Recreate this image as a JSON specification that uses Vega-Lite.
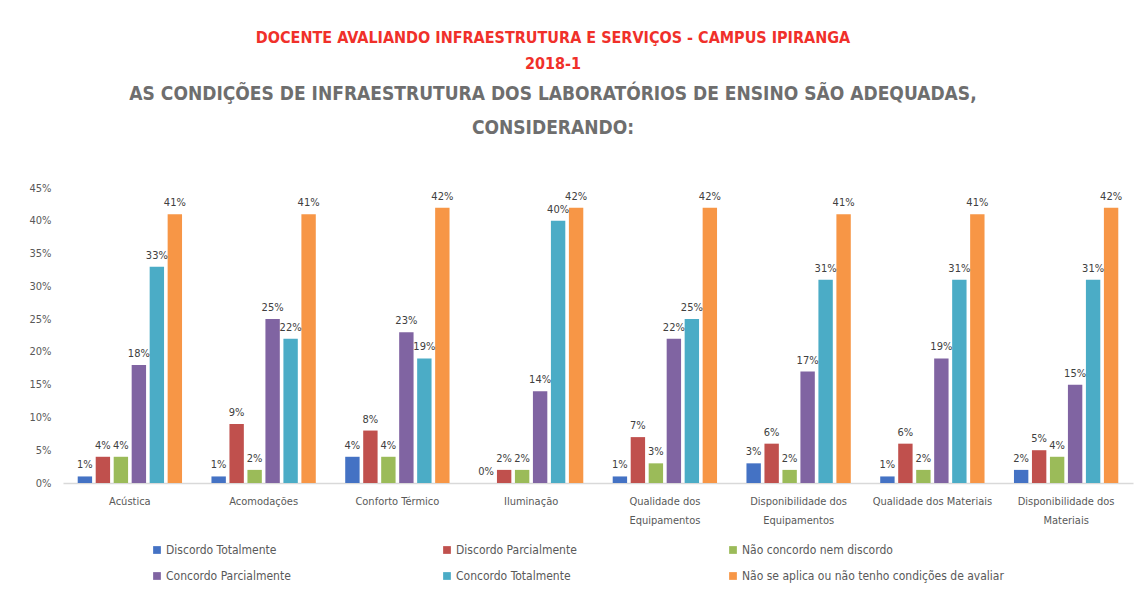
{
  "$schema": "https://vega.github.io/schema/vega-lite/v6.json",
  "width": 1070,
  "height": 295,
  "autosize": "none",
  "padding": {"left": 63, "top": 188, "right": 5, "bottom": 132},
  "background": "white",
  "config": {"view": {"stroke": null}, "font": "'DejaVu Sans Condensed', 'Liberation Sans', sans-serif"},
  "title": {
    "text": ["DOCENTE AVALIANDO INFRAESTRUTURA E SERVIÇOS - CAMPUS IPIRANGA", "2018-1"],
    "subtitle": ["AS CONDIÇÕES DE INFRAESTRUTURA DOS LABORATÓRIOS DE ENSINO SÃO ADEQUADAS,", "CONSIDERANDO:"],
    "color": "#F0302A",
    "fontSize": 16,
    "fontWeight": "bold",
    "lineHeight": 26,
    "subtitleColor": "#6E6E6E",
    "subtitleFontSize": 19,
    "subtitleFontWeight": "bold",
    "subtitleLineHeight": 34,
    "subtitlePadding": 13,
    "anchor": "middle",
    "dx": -45,
    "offset": 44,
    "font": "'DejaVu Sans Condensed', 'Liberation Sans', sans-serif",
    "subtitleFont": "'DejaVu Sans Condensed', 'Liberation Sans', sans-serif"
  },
  "data": {
    "values": [
      {"item": "Acústica", "resp": "Discordo Totalmente", "v": 0.01},
      {"item": "Acústica", "resp": "Discordo Parcialmente", "v": 0.04},
      {"item": "Acústica", "resp": "Não concordo nem discordo", "v": 0.04},
      {"item": "Acústica", "resp": "Concordo Parcialmente", "v": 0.18},
      {"item": "Acústica", "resp": "Concordo Totalmente", "v": 0.33},
      {"item": "Acústica", "resp": "Não se aplica ou não tenho condições de avaliar", "v": 0.41},
      {"item": "Acomodações", "resp": "Discordo Totalmente", "v": 0.01},
      {"item": "Acomodações", "resp": "Discordo Parcialmente", "v": 0.09},
      {"item": "Acomodações", "resp": "Não concordo nem discordo", "v": 0.02},
      {"item": "Acomodações", "resp": "Concordo Parcialmente", "v": 0.25},
      {"item": "Acomodações", "resp": "Concordo Totalmente", "v": 0.22},
      {"item": "Acomodações", "resp": "Não se aplica ou não tenho condições de avaliar", "v": 0.41},
      {"item": "Conforto Térmico", "resp": "Discordo Totalmente", "v": 0.04},
      {"item": "Conforto Térmico", "resp": "Discordo Parcialmente", "v": 0.08},
      {"item": "Conforto Térmico", "resp": "Não concordo nem discordo", "v": 0.04},
      {"item": "Conforto Térmico", "resp": "Concordo Parcialmente", "v": 0.23},
      {"item": "Conforto Térmico", "resp": "Concordo Totalmente", "v": 0.19},
      {"item": "Conforto Térmico", "resp": "Não se aplica ou não tenho condições de avaliar", "v": 0.42},
      {"item": "Iluminação", "resp": "Discordo Totalmente", "v": 0.0},
      {"item": "Iluminação", "resp": "Discordo Parcialmente", "v": 0.02},
      {"item": "Iluminação", "resp": "Não concordo nem discordo", "v": 0.02},
      {"item": "Iluminação", "resp": "Concordo Parcialmente", "v": 0.14},
      {"item": "Iluminação", "resp": "Concordo Totalmente", "v": 0.40},
      {"item": "Iluminação", "resp": "Não se aplica ou não tenho condições de avaliar", "v": 0.42},
      {"item": "Qualidade dos Equipamentos", "resp": "Discordo Totalmente", "v": 0.01},
      {"item": "Qualidade dos Equipamentos", "resp": "Discordo Parcialmente", "v": 0.07},
      {"item": "Qualidade dos Equipamentos", "resp": "Não concordo nem discordo", "v": 0.03},
      {"item": "Qualidade dos Equipamentos", "resp": "Concordo Parcialmente", "v": 0.22},
      {"item": "Qualidade dos Equipamentos", "resp": "Concordo Totalmente", "v": 0.25},
      {"item": "Qualidade dos Equipamentos", "resp": "Não se aplica ou não tenho condições de avaliar", "v": 0.42},
      {"item": "Disponibilidade dos Equipamentos", "resp": "Discordo Totalmente", "v": 0.03},
      {"item": "Disponibilidade dos Equipamentos", "resp": "Discordo Parcialmente", "v": 0.06},
      {"item": "Disponibilidade dos Equipamentos", "resp": "Não concordo nem discordo", "v": 0.02},
      {"item": "Disponibilidade dos Equipamentos", "resp": "Concordo Parcialmente", "v": 0.17},
      {"item": "Disponibilidade dos Equipamentos", "resp": "Concordo Totalmente", "v": 0.31},
      {"item": "Disponibilidade dos Equipamentos", "resp": "Não se aplica ou não tenho condições de avaliar", "v": 0.41},
      {"item": "Qualidade dos Materiais", "resp": "Discordo Totalmente", "v": 0.01},
      {"item": "Qualidade dos Materiais", "resp": "Discordo Parcialmente", "v": 0.06},
      {"item": "Qualidade dos Materiais", "resp": "Não concordo nem discordo", "v": 0.02},
      {"item": "Qualidade dos Materiais", "resp": "Concordo Parcialmente", "v": 0.19},
      {"item": "Qualidade dos Materiais", "resp": "Concordo Totalmente", "v": 0.31},
      {"item": "Qualidade dos Materiais", "resp": "Não se aplica ou não tenho condições de avaliar", "v": 0.41},
      {"item": "Disponibilidade dos Materiais", "resp": "Discordo Totalmente", "v": 0.02},
      {"item": "Disponibilidade dos Materiais", "resp": "Discordo Parcialmente", "v": 0.05},
      {"item": "Disponibilidade dos Materiais", "resp": "Não concordo nem discordo", "v": 0.04},
      {"item": "Disponibilidade dos Materiais", "resp": "Concordo Parcialmente", "v": 0.15},
      {"item": "Disponibilidade dos Materiais", "resp": "Concordo Totalmente", "v": 0.31},
      {"item": "Disponibilidade dos Materiais", "resp": "Não se aplica ou não tenho condições de avaliar", "v": 0.42}
    ]
  },
  "encoding": {
    "x": {
      "field": "item", "type": "nominal", "sort": null, "title": null,
      "scale": {"paddingInner": 0.22, "paddingOuter": 0.11},
      "axis": {
        "labelAngle": 0, "ticks": false, "domainColor": "#D9D9D9", "domainWidth": 1.5,
        "labelColor": "#595959", "labelFontSize": 11, "labelPadding": 12, "labelLineHeight": 19,
        "labelExpr": "datum.label == 'Qualidade dos Equipamentos' ? ['Qualidade dos','Equipamentos'] : datum.label == 'Disponibilidade dos Equipamentos' ? ['Disponibilidade dos','Equipamentos'] : datum.label == 'Disponibilidade dos Materiais' ? ['Disponibilidade dos','Materiais'] : datum.label"
      }
    },
    "xOffset": {
      "field": "resp", "type": "nominal", "sort": null,
      "scale": {"paddingInner": 0.2}
    },
    "y": {
      "field": "v", "type": "quantitative", "title": null,
      "scale": {"domain": [0, 0.45]},
      "axis": {
        "format": ".0%", "values": [0, 0.05, 0.1, 0.15, 0.2, 0.25, 0.3, 0.35, 0.4, 0.45],
        "grid": false, "domain": false, "ticks": false,
        "labelColor": "#595959", "labelFontSize": 11, "labelPadding": 12
      }
    }
  },
  "layer": [
    {
      "mark": {"type": "bar"},
      "encoding": {
        "color": {
          "field": "resp", "type": "nominal", "sort": null,
          "scale": {
            "domain": ["Discordo Totalmente", "Discordo Parcialmente", "Não concordo nem discordo", "Concordo Parcialmente", "Concordo Totalmente", "Não se aplica ou não tenho condições de avaliar"],
            "range": ["#4472C4", "#C0504D", "#9BBB59", "#8064A2", "#4BACC6", "#F79646"]
          },
          "legend": {
            "title": null, "orient": "none", "legendX": 88, "legendY": 356,
            "direction": "horizontal",
            "columns": 3, "columnPadding": 150, "rowPadding": 14,
            "symbolType": "square", "symbolSize": 60, "symbolStrokeWidth": 0,
            "labelFontSize": 12, "labelColor": "#595959", "labelOffset": 3, "labelLimit": 400
          }
        }
      }
    },
    {
      "mark": {"type": "text", "baseline": "bottom", "dy": -6, "fontSize": 11, "color": "#404040"},
      "encoding": {
        "text": {"field": "v", "type": "quantitative", "format": ".0%"}
      }
    }
  ]
}
